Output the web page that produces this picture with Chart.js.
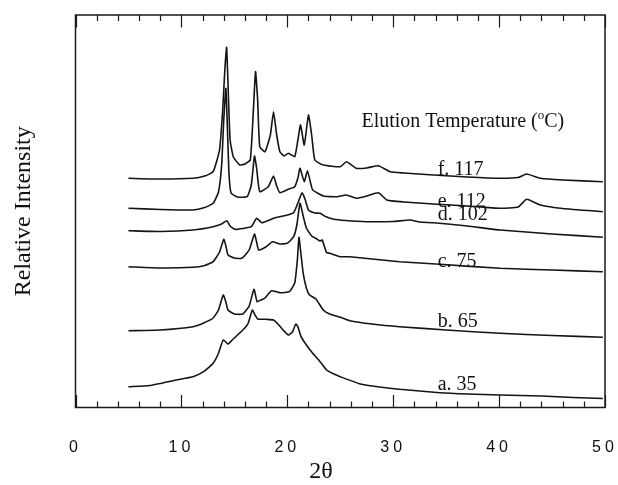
<!DOCTYPE html>
<html>
<head>
<meta charset="utf-8">
<script src="https://cdn.jsdelivr.net/npm/chart.js@4"></script>
<style>
  html, body { margin: 0; padding: 0; background: #fff; }
  #wrap { width: 618px; height: 485px; }
</style>
</head>
<body>
<div id="wrap"><canvas id="c" width="618" height="485"></canvas></div>
<script>
// ---- Data (2θ in degrees, relative intensity in arbitrary units) ----
const xTickValues = [0, 10, 20, 30, 40, 50];
const seriesLabels = ["a. 35", "b. 65", "c. 75", "d. 102", "e. 112", "f. 117"];
const legendTitle = "Elution Temperature (";
const xTitle = "2\u03B8";
const yTitle = "Relative Intensity";

const theta_a = [5,7,9.5,11.1,12.1,13.0,13.5,13.95,14.4,14.8,15.8,16.3,16.7,16.95,17.2,18.0,18.7,19.2,19.6,20.1,20.5,20.8,21.0,21.3,21.8,22.4,23.1,23.7,24.4,25.0,26.9,28.7,30.6,34.4,37,40.1,44,47,49.8];
const int_a   = [20.8,22,27.5,30.8,35.8,44.2,54.2,67.5,63.5,67.5,77.5,84.2,97.5,92.5,88.5,88.2,87.5,82.5,77.5,72.5,75.8,83.5,80.8,70.8,62.5,54.2,45.8,37.5,33.5,30.8,23.5,20.5,18.2,14.8,13.5,12.5,11.5,10,9];

const theta_b = [5,8,11.1,12.1,13.0,13.5,13.95,14.2,14.4,15.0,15.8,16.4,16.85,17.15,17.5,17.9,18.5,19.3,20.2,20.7,20.95,21.1,21.3,21.5,21.8,22.1,22.7,23.4,24,25.0,25.9,28,30.6,35,40.1,45,49.8];
const int_b   = [76.8,77.5,80.8,84.5,89.5,97.5,112.5,105.5,97.5,93.5,93.5,101.5,118.2,105.8,107.5,109.5,116.8,114.8,115.8,124.5,147.5,170.2,152.5,134.2,119.5,112.5,108.5,97.5,93.5,90.2,86.8,83.5,80.8,77.5,74.2,72,70.2];

const theta_c = [5,8,11.1,12.2,13.0,13.6,14.0,14.2,14.4,15.0,15.7,16.4,16.9,17.1,17.3,18.0,18.6,19.3,20.0,20.6,20.9,21.2,21.5,21.8,22.3,22.8,23.1,23.3,23.7,24.0,25.0,25.9,30.6,34.4,40.1,45,49.8];
const int_c   = [140.8,139.5,140.2,142,145.8,155.5,168.2,161.5,152.5,149.5,149.2,157.5,173.5,165.5,157.5,160.8,165.8,163.5,164.2,170.8,182.5,204.2,191.5,179.5,171.5,168.5,166.5,167.5,155,154.2,150.8,150.8,145.8,143.2,139.2,137.5,135.8];

const theta_d = [5,8,11.1,13.0,13.8,14.3,14.6,15.05,15.8,16.6,17.1,17.6,18.7,19.3,20.0,20.6,21.0,21.4,21.7,22.0,22.6,23.1,23.6,24.3,25.5,27.5,30,31.6,32.5,33.8,37,40.1,45,49.8];
const int_d   = [176.8,176,177.5,180.8,183.5,186.8,181.5,178.2,179,180.8,189.2,184.8,189.2,190.8,192.5,194.8,204.5,214.8,207.5,197.5,194.5,194.2,191,188.5,187,185.8,186,187.5,185.5,184.8,181.5,177.5,173.5,170.2];

const theta_e = [5,8,11.1,12.2,13.0,13.5,13.8,14.0,14.2,14.35,14.5,14.7,15.3,16.2,16.6,16.9,17.1,17.4,18.2,18.7,19.0,19.3,20.1,20.7,21.0,21.2,21.6,21.9,22.2,22.4,23.4,24.7,25.6,26.5,27.5,28.6,29.4,31,33.8,37,40.1,41.8,42.6,43.9,46,49.8];
const int_e   = [199.2,198,197.5,200,204.2,215.5,242.5,287.5,319.2,277.5,232.5,214.2,210.5,210.8,222.5,251.5,239.5,215.8,220.8,231.5,221.5,214.8,218.2,220.8,229.5,239.2,225.8,236.8,224.5,217.5,211.5,210.8,212.5,209.2,211.5,214.8,207.5,205.5,203.5,201.5,199.2,200.5,208.2,202.5,199,195.8];

const theta_f = [5,8,11.1,12.2,13.0,13.6,13.9,14.1,14.27,14.45,14.6,14.9,15.5,16.0,16.5,16.75,17.0,17.2,17.4,17.9,18.4,18.7,19.0,19.3,19.7,20.1,20.7,21.0,21.25,21.6,22.0,22.3,22.6,23.4,25.0,25.6,26.5,27.5,28.6,29.7,31,33.8,37,40.1,41.8,42.6,43.9,46,49.8];
const int_f   = [229.2,228.5,229.2,231.5,235.8,257.5,297.5,337.5,360.2,307.5,267.5,250.8,242.5,243.5,247.5,287.5,335.8,307.5,260.8,255.8,272.5,295.8,272.5,255.8,251.5,254.2,250.8,267.5,282.5,262.5,292.5,272.5,247.5,242.5,240.8,245.8,239.2,239.5,241.8,235.8,234.5,232.5,230.5,229.2,230,233.5,229.2,227.5,225.8];

// label anchors in data units (2θ, intensity)
const labelTheta = 34.2;
const labelIntensity = [17.5, 80.8, 140.8, 187.5, 200.8, 232.5];
const legendAnchor = [27.0, 280.5];

// ---- build chart ----
const thetas = [theta_a, theta_b, theta_c, theta_d, theta_e, theta_f];
const ints = [int_a, int_b, int_c, int_d, int_e, int_f];
const datasets = thetas.map((t, i) => ({
  label: seriesLabels[i],
  data: t.map((x, j) => ({ x: x, y: ints[i][j] })),
  borderColor: '#141414',
  borderWidth: 1.6,
  pointRadius: 0,
  fill: false,
  tension: 0.15
}));

const framePlugin = {
  id: 'frame',
  beforeDraw(chart) {
    const xs = chart.scales.x;
    if (!xs._spaced) {
      const orig = xs.drawLabels.bind(xs);
      xs.drawLabels = function (area) {
        const ctx = chart.ctx;
        ctx.save();
        ctx.letterSpacing = '4px';
        orig(area);
        ctx.restore();
      };
      xs._spaced = true;
    }
  },
  afterDraw(chart) {
    const ctx = chart.ctx;
    const a = chart.chartArea;
    const xs = chart.scales.x, ys = chart.scales.y;
    ctx.save();
    ctx.strokeStyle = '#1a1a1a';
    ctx.lineWidth = 1.5;
    ctx.strokeRect(a.left, a.top, a.right - a.left, a.bottom - a.top);
    ctx.lineWidth = 1.2;
    ctx.beginPath();
    for (let v = 0; v <= 50; v += 2) {
      const px = Math.round(xs.getPixelForValue(v)) + 0.5;
      const len = (v % 10 === 0) ? 12.5 : 6;
      ctx.moveTo(px, a.bottom); ctx.lineTo(px, a.bottom - len);
      ctx.moveTo(px, a.top); ctx.lineTo(px, a.top + len);
    }
    ctx.stroke();

    ctx.fillStyle = '#111';
    ctx.textBaseline = 'alphabetic';
    ctx.textAlign = 'left';
    ctx.font = '20px "Liberation Serif", "Times New Roman", serif';
    for (let i = 0; i < seriesLabels.length; i++) {
      ctx.fillText(seriesLabels[i], xs.getPixelForValue(labelTheta), ys.getPixelForValue(labelIntensity[i]));
    }
    // legend title with superscript o
    let lx = xs.getPixelForValue(legendAnchor[0]);
    const ly = ys.getPixelForValue(legendAnchor[1]);
    ctx.fillText(legendTitle, lx, ly);
    lx += ctx.measureText(legendTitle).width;
    ctx.font = '13px "Liberation Serif", "Times New Roman", serif';
    ctx.fillText('o', lx, ly - 8);
    lx += ctx.measureText('o').width;
    ctx.font = '20px "Liberation Serif", "Times New Roman", serif';
    ctx.fillText('C)', lx, ly);

    // x axis title
    ctx.textAlign = 'center';
    ctx.textBaseline = 'middle';
    ctx.font = '24px "Liberation Serif", "Times New Roman", serif';
    ctx.fillText(xTitle, 321, 472);
    ctx.restore();
  }
};

new Chart(document.getElementById('c'), {
  type: 'line',
  data: { datasets: datasets },
  options: {
    responsive: false,
    animation: false,
    devicePixelRatio: 1,
    layout: { padding: { top: 15, right: 13, left: 0, bottom: 0 } },
    plugins: { legend: { display: false }, tooltip: { enabled: false } },
    scales: {
      x: {
        type: 'linear',
        min: 0, max: 50,
        afterBuildTicks(scale) { scale.ticks = xTickValues.map(v => ({ value: v })); },
        afterFit(scale) { scale.height = 77.5; scale.paddingLeft = 0; scale.paddingRight = 0; },
        grid: { display: false, drawTicks: false },
        border: { display: false },
        ticks: {
          font: { family: '"Liberation Sans", Arial, sans-serif', size: 16 },
          color: '#111',
          padding: 30,
          maxRotation: 0
        }
      },
      y: {
        type: 'linear',
        min: 0, max: 392.5,
        afterFit(scale) { scale.width = 75.5; },
        grid: { display: false, drawTicks: false },
        border: { display: false },
        ticks: { display: false },
        title: {
          display: true,
          text: yTitle,
          color: '#111',
          font: { family: '"Liberation Serif", "Times New Roman", serif', size: 24 },
          padding: { top: 9, bottom: 0 }
        }
      }
    }
  },
  plugins: [framePlugin]
});
</script>
</body>
</html>
